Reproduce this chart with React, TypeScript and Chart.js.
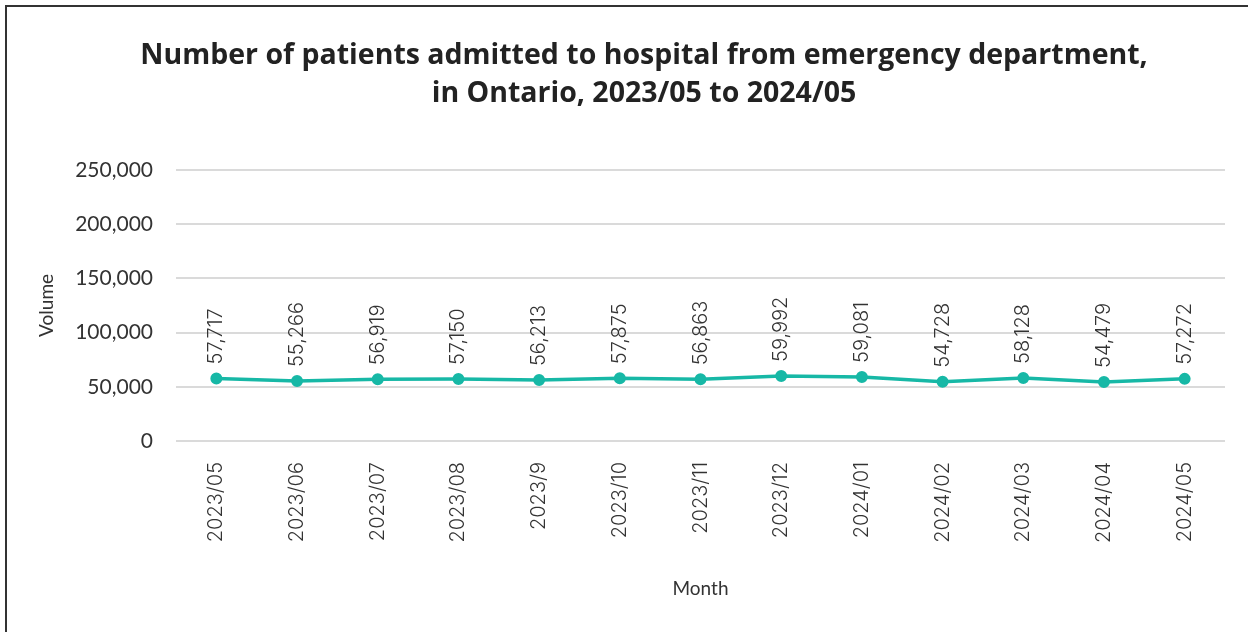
import React, { useEffect, useRef } from "react";
import { Chart, registerables } from "chart.js";

Chart.register(...registerables);

const months = [
  "2023/05", "2023/06", "2023/07", "2023/08", "2023/9", "2023/10", "2023/11",
  "2023/12", "2024/01", "2024/02", "2024/03", "2024/04", "2024/05",
];
const admissions = [
  57717, 55266, 56919, 57150, 56213, 57875, 56863, 59992, 59081, 54728, 58128, 54479, 57272,
];
const titleLines = [
  "Number of patients admitted to hospital from emergency department,",
  "in Ontario, 2023/05 to 2024/05",
];
const yMin = 0;
const yMax = 250000;
const yStep = 50000;

const fmt = (v: number) => Number(v).toLocaleString("en-US");

const valueLabels = {
  id: "valueLabels",
  afterDatasetsDraw(chart: any) {
    const ctx = chart.ctx;
    const meta = chart.getDatasetMeta(0);
    ctx.save();
    ctx.font = "300 20px Inter";
    ctx.fillStyle = "#333";
    ctx.textAlign = "left";
    ctx.textBaseline = "middle";
    meta.data.forEach((pt: any, i: number) => {
      ctx.save();
      ctx.translate(pt.x, pt.y - 14);
      ctx.rotate(-Math.PI / 2);
      ctx.fillText(fmt(admissions[i]), 0, 0);
      ctx.restore();
    });
    ctx.restore();
  },
};

export default function App() {
  const ref = useRef<HTMLCanvasElement>(null);
  useEffect(() => {
    const chart = new Chart(ref.current as HTMLCanvasElement, {
      type: "line",
      data: {
        labels: months,
        datasets: [
          {
            data: admissions,
            borderColor: "#17b8a6",
            backgroundColor: "#17b8a6",
            borderWidth: 3.5,
            pointRadius: 5,
            pointBorderWidth: 2,
            pointHoverRadius: 5,
            tension: 0,
            yAxisID: "y",
          },
        ],
      },
      options: {
        responsive: false,
        animation: false,
        events: [],
        layout: { padding: 0 },
        plugins: {
          legend: { display: false },
          tooltip: { enabled: false },
          title: {
            display: true,
            text: titleLines,
            color: "#222",
            font: { family: "'Open Sans'", size: 28.5, weight: "bold", lineHeight: 1.33 },
            padding: { top: 30, bottom: 57 },
          },
        },
        scales: {
          x: {
            offset: true,
            grid: { display: false, drawTicks: false },
            border: { display: false },
            ticks: {
              minRotation: 90,
              maxRotation: 90,
              padding: 21,
              color: "#333",
              font: { family: "Inter", size: 20, weight: "300" },
              autoSkip: false,
            },
            title: {
              display: true,
              text: "Month",
              color: "#333",
              font: { family: "Lato", size: 19 },
              padding: { top: 0, bottom: 67 },
            },
            afterFit: (s: any) => {
              s.height = 226;
            },
          },
          y: {
            min: yMin,
            max: yMax,
            grid: { color: "#dadada", lineWidth: 2, drawTicks: false },
            border: { display: false },
            ticks: {
              stepSize: yStep,
              padding: 23,
              color: "#333",
              font: { family: "Lato", size: 21 },
              callback: (v: any) => fmt(v),
            },
            title: {
              display: true,
              text: "Volume",
              color: "#333",
              font: { family: "Lato", size: 19 },
              padding: { top: 28, bottom: 0 },
            },
            afterFit: (s: any) => {
              s.width = 169;
            },
          },
          yR: {
            position: "right",
            display: true,
            grid: { display: false, drawTicks: false },
            border: { display: false },
            ticks: { display: false },
            afterFit: (s: any) => {
              s.width = 56;
            },
          },
        },
      },
      plugins: [valueLabels],
    } as any);
    return () => chart.destroy();
  }, []);

  return (
    <div
      style={{
        position: "fixed",
        left: 0,
        top: 0,
        width: 1248,
        height: 632,
        overflow: "hidden",
        background: "#fff",
      }}
    >
      <div
        style={{
          position: "absolute",
          left: 5,
          top: 5,
          width: 1274,
          height: 660,
          border: "2px solid #333",
          background: "#fff",
        }}
      >
        <canvas ref={ref} width={1274} height={660} style={{ display: "block" }} />
      </div>
    </div>
  );
}
